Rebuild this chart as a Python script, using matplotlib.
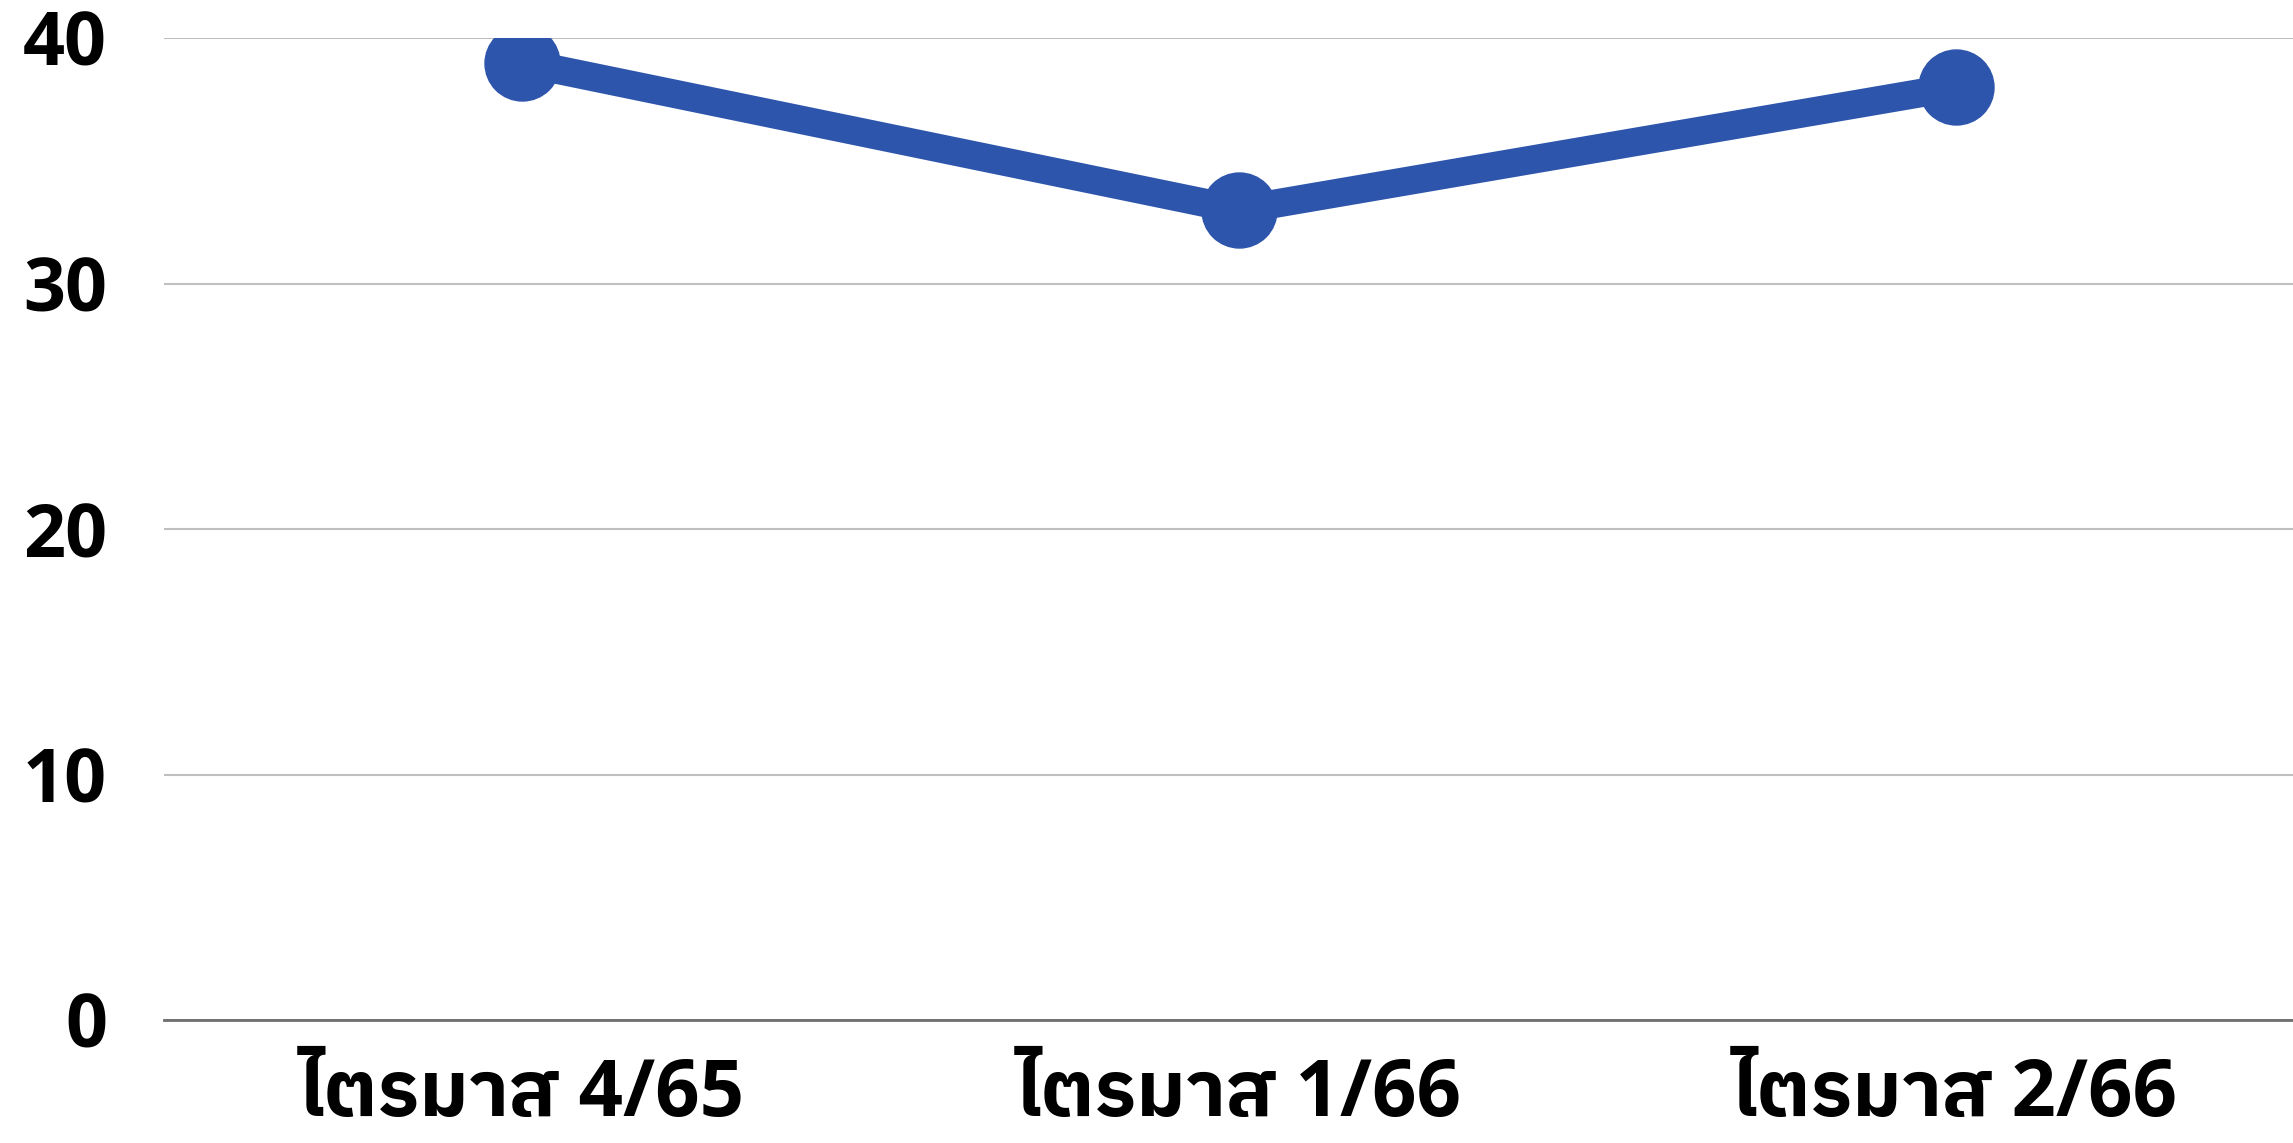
import matplotlib
matplotlib.use('Agg')
import matplotlib.pyplot as plt
from matplotlib import font_manager
from matplotlib.ft2font import FT2Font

# Chart data
quarters = ['ไตรมาส 4/65', 'ไตรมาส 1/66', 'ไตรมาส 2/66']
values = [39, 33, 38]
y_ticks = [0, 10, 20, 30, 40]


# Find an installed font that has Thai glyphs
def find_thai_font():
    found = []
    for f in font_manager.fontManager.ttflist:
        try:
            if 0x0E44 in FT2Font(f.fname).get_charmap():
                found.append(f.name)
        except Exception:
            pass
    if not found:
        return None
    found.sort(key=lambda n: (0 if 'Thai' in n else 1, n))
    return found[0]


# Pick a latin family that really has a bold face
def find_bold_latin():
    for name in ['Noto Sans', 'Open Sans', 'Lato', 'Roboto']:
        for f in font_manager.fontManager.ttflist:
            if f.name == name and f.weight in (700, 'bold'):
                return name
    return 'DejaVu Sans'


thai_font = find_thai_font()
latin_font = find_bold_latin()
families = [latin_font] + ([thai_font] if thai_font else []) + ['DejaVu Sans']
plt.rcParams['font.family'] = families

fig = plt.figure(figsize=(22.93, 11.43), dpi=100)
# axes run a bit past the right edge, like the cropped original
ax = fig.add_axes([164 / 2293, 1 - 1020 / 1143, 2150 / 2293, (1020 - 38) / 1143])

x = list(range(len(quarters)))
ax.plot(x, values, color='#2E55AC', linewidth=20.5, marker='o', markersize=54,
        solid_capstyle='butt', zorder=3)

ax.set_xlim(-0.5, len(quarters) - 0.5)
ax.set_ylim(0, 40)
ax.set_yticks(y_ticks)
ax.set_xticks(x)
ax.set_xticklabels(quarters)

ax.grid(axis='y', color='#BFBFBF', linewidth=1.5)
ax.set_axisbelow(True)
for side in ['top', 'right', 'left']:
    ax.spines[side].set_visible(False)
ax.spines['bottom'].set_color('#6E6E6E')
ax.spines['bottom'].set_linewidth(2)
ax.spines['bottom'].set_zorder(2)

ax.tick_params(axis='both', length=0)
ax.tick_params(axis='y', pad=41, labelsize=53)
ax.tick_params(axis='x', pad=26, labelsize=56)
for lab in ax.get_xticklabels() + ax.get_yticklabels():
    lab.set_fontweight('bold')

fig.savefig('out.png', dpi=100)
